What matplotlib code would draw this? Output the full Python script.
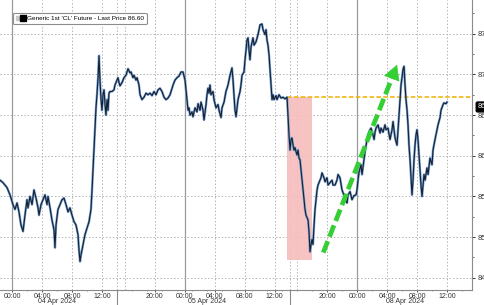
import matplotlib
matplotlib.use('Agg')
import matplotlib.pyplot as plt
from matplotlib.lines import Line2D
from matplotlib.legend_handler import HandlerTuple
import matplotlib.transforms as mtransforms

plt.rcParams['font.family'] = ['Liberation Sans', 'DejaVu Sans']

# ── Datos: eje horario comprimido (0 = 04 Apr 00:00, sin huecos de mercado) ──
hours = [
    -1.60, -1.20, -0.67, -0.27, 0.13, 0.40, 0.67, 0.93, 1.20, 1.47, 1.73, 2.00,
    2.13, 2.40, 2.67, 2.93, 3.20, 3.47, 3.60, 3.87, 4.13, 4.40, 4.67, 4.80,
    5.07, 5.33, 5.60, 5.73, 5.87, 6.13, 6.40, 6.67, 6.93, 7.20, 7.47, 7.73,
    8.00, 8.27, 8.53, 8.80, 8.93, 9.07, 9.20, 9.47, 9.73, 10.00, 10.27, 10.53,
    10.67, 10.80, 10.93, 11.07, 11.20, 11.33, 11.47, 11.60, 11.73, 11.87, 12.00,
    12.13, 12.27, 12.40, 12.53, 12.67, 12.80, 12.93, 13.07, 13.33, 13.60, 13.73,
    14.00, 14.13, 14.27, 14.40, 14.67, 14.93, 15.20, 15.33, 15.47, 15.73, 15.87,
    16.13, 16.27, 16.53, 16.67, 16.93, 17.07, 17.33, 17.60, 17.87, 18.13, 18.40,
    18.67, 18.93, 19.20, 19.47, 19.73, 20.00, 20.27, 20.53, 20.80, 21.07, 21.33,
    21.47, 21.73, 22.00, 22.27, 22.53, 22.80, 23.07, 23.20, 23.33, 23.47, 23.60,
    23.73, 24.00, 24.13, 24.40, 24.67, 24.80, 25.07, 25.20, 25.47, 25.60, 25.87,
    26.00, 26.13, 26.27, 26.40, 26.53, 26.80, 26.93, 27.20, 27.47, 27.60, 27.87,
    28.00, 28.27, 28.53, 28.80, 29.07, 29.33, 29.47, 29.60, 29.73, 29.87, 30.00,
    30.13, 30.40, 30.53, 30.67, 30.93, 31.07, 31.20, 31.33, 31.47, 31.60, 31.73,
    31.87, 32.13, 32.27, 32.53, 32.80, 32.93, 33.07, 33.33, 33.47, 33.73, 33.87,
    34.00, 34.13, 34.27, 34.40, 34.53, 34.67, 34.80, 34.93, 35.20, 35.33, 35.60,
    35.87, 36.13, 36.40, 36.67, 36.93, 37.07, 37.20, 37.33, 37.47, 37.60, 37.73,
    37.87, 38.00, 38.13, 38.27, 38.40, 38.53, 38.67, 38.80, 38.93, 39.07, 39.20,
    39.47, 39.60, 39.73, 39.87, 40.00, 40.13, 40.27, 40.40, 40.53, 40.67, 40.80,
    41.07, 41.20, 41.33, 41.60, 41.73, 42.00, 42.13, 42.40, 42.67, 42.80, 43.07,
    43.33, 43.47, 43.73, 44.00, 44.27, 44.40, 44.67, 44.80, 45.07, 45.33, 45.60,
    45.87, 46.00, 46.13, 46.27, 46.53, 46.67, 46.93, 47.07, 47.33, 47.47, 47.73,
    47.87, 48.13, 48.27, 48.40, 48.53, 48.80, 49.07, 49.20, 49.47, 49.73, 49.87,
    50.13, 50.40, 50.67, 50.80, 51.07, 51.33, 51.47, 51.60, 51.73, 51.87, 52.13,
    52.27, 52.40, 52.53, 52.67, 52.80, 52.93, 53.07, 53.20, 53.33, 53.47, 53.60,
    53.73, 53.87, 54.00, 54.13, 54.27, 54.40, 54.53, 54.67, 54.80, 54.93, 55.07,
    55.33, 55.47, 55.73, 56.00, 56.13, 56.40, 56.67, 56.80, 57.07, 57.20, 57.47,
    57.60, 57.87, 58.00,
]
price = [
    85.70, 85.67, 85.61, 85.52, 85.40, 85.34, 85.42, 85.31, 85.15, 85.07, 85.27, 85.46,
    85.36, 85.50, 85.40, 85.58, 85.48, 85.36, 85.27, 85.40, 85.46, 85.52, 85.40, 85.50,
    85.36, 85.21, 85.09, 84.87, 85.15, 85.34, 85.40, 85.46, 85.48, 85.40, 85.31, 85.36,
    85.27, 85.19, 85.15, 85.03, 84.84, 84.70, 84.78, 84.91, 85.03, 85.11, 85.19, 85.34,
    85.58, 85.83, 86.07, 86.34, 86.59, 86.75, 86.96, 87.23, 86.93, 86.69, 86.56,
    86.75, 86.81, 86.63, 86.50, 86.69, 86.56, 86.77, 86.79, 86.79, 86.81, 86.87,
    86.93, 86.96, 86.90, 86.86, 86.90, 86.96, 86.99, 87.03, 87.07, 87.02, 87.03,
    86.96, 86.99, 86.93, 86.96, 86.87, 86.75, 86.69, 86.72, 86.77, 86.75, 86.77,
    86.74, 86.79, 86.75, 86.81, 86.83, 86.79, 86.72, 86.69, 86.71, 86.75, 86.83,
    86.87, 86.93, 86.96, 86.98, 87.03, 87.03, 86.93, 86.81, 86.69, 86.56, 86.59,
    86.50, 86.54, 86.48, 86.59, 86.54, 86.64, 86.56, 86.66, 86.56, 86.44, 86.63,
    86.75, 86.83, 86.77, 86.87, 86.75, 86.79, 86.69, 86.59, 86.63, 86.56, 86.47,
    86.59, 86.66, 86.79, 86.87, 86.99, 87.08, 86.93, 86.75, 86.56, 86.48, 86.59,
    86.69, 86.79, 86.87, 86.99, 87.03, 87.18, 87.30, 87.42, 87.45, 87.30, 87.18,
    87.34, 87.45, 87.36, 87.40, 87.49, 87.55, 87.61, 87.62, 87.55, 87.49, 87.55,
    87.42, 87.36, 87.24, 87.06, 86.87, 86.69, 86.75, 86.69, 86.74, 86.69, 86.75,
    86.71, 86.72, 86.70, 86.72, 86.26, 86.07, 86.20, 86.22, 86.13, 86.07, 86.10,
    86.05, 86.01, 86.07, 85.97, 85.95, 85.83, 85.70, 85.58, 85.46, 85.34, 85.27,
    85.21, 85.07, 84.82, 84.91, 84.97, 84.91, 85.15, 85.34, 85.46, 85.58, 85.64,
    85.70, 85.73, 85.79, 85.73, 85.68, 85.73, 85.64, 85.67, 85.70, 85.64, 85.64,
    85.70, 85.77, 85.73, 85.58, 85.51, 85.46, 85.42, 85.52, 85.56, 85.46, 85.51,
    85.52, 85.58, 85.70, 85.80, 85.89, 85.77, 85.95, 86.05, 86.20, 86.26, 86.32,
    86.34, 86.26, 86.20, 86.29, 86.34, 86.38, 86.28, 86.34, 86.29, 86.38, 86.32,
    86.34, 86.20, 86.32, 86.42, 86.22, 86.13, 86.32, 86.50, 86.69, 86.87, 87.06,
    87.10, 86.87, 86.69, 86.56, 86.38, 86.13, 85.95, 85.73, 85.52, 85.70, 85.95,
    86.13, 86.26, 86.32, 86.20, 86.01, 85.83, 85.64, 85.50, 85.64, 85.77, 85.70,
    85.85, 85.77, 85.97, 85.89, 86.07, 86.20, 86.32, 86.38, 86.47, 86.56, 86.63,
    86.65, 86.64, 86.66,
]

LAST_PRICE   = 86.60
REF_LEVEL    = 86.72                 # linea naranja (cierre del viernes)
SHADE_X      = (36.67, 40.00)        # zona roja
SHADE_Y      = (84.72, 86.72)
ARROW_START  = (41.5, 84.81)
ARROW_TIP    = (51.33, 87.12)
ARROW_NECK   = (50.84, 87.00)

tick_pos    = [0, 4, 8, 12, 19, 23, 27, 31, 35, 42, 46, 50, 54, 58]
tick_lab    = ['00:00', '04:00', '08:00', '12:00', '20:00', '00:00', '04:00',
               '08:00', '12:00', '20:00', '00:00', '04:00', '08:00', '12:00']
day_lines   = [0, 23, 46]
separators  = [14, 37]
extra_grid  = [15, 38]
date_pos    = [6.0, 26.0, 52.4]
date_lab    = ['04 Apr 2024', '05 Apr 2024', '08 Apr 2024']
y_ticks     = [84.5, 85.0, 85.5, 86.0, 86.5, 87.0, 87.5]

GRID = '#b4b4b4'; GREEN = '#35cf35'; ORANGE = '#f0b000'

# ── Figura ───────────────────────────────────────────────────────────────────
fig = plt.figure(figsize=(4.85, 3.05), dpi=100)
ax = fig.add_axes([0, 15 / 305, 472 / 485, 290 / 305])
ax.set_xlim(-1.6, 61.33)
ax.set_ylim(84.35, 87.915)

for y in y_ticks:
    ax.axhline(y, color=GRID, ls=(0, (1.5, 2)), lw=0.7, zorder=0)
for x in tick_pos + separators + extra_grid:
    if x not in day_lines:
        ax.axvline(x, color=GRID, ls=(0, (1.5, 2)), lw=0.7, zorder=0)
for x in day_lines:
    ax.axvline(x, color='#9a9a9a', lw=0.9, zorder=0)

ax.fill_between(SHADE_X, SHADE_Y[0], SHADE_Y[1], color='#f6bcbc', alpha=0.9,
                lw=0, zorder=1)
ax.hlines(REF_LEVEL, SHADE_X[0], 61.33, color=ORANGE, ls=(0, (3, 1.5)), lw=1.1, zorder=2)

ax.plot(hours, price, color='#6f9fd6', lw=1.7, zorder=3)
ax.plot(hours, price, color='#1a1f2b', lw=0.8, zorder=4)

# flecha verde discontinua
ax.plot([ARROW_START[0], ARROW_NECK[0]], [ARROW_START[1], ARROW_NECK[1]],
        color=GREEN, lw=3.4, ls=(0, (2.6, 1.0)), solid_capstyle='butt', zorder=5)
ax.annotate('', xy=ARROW_TIP, xytext=ARROW_NECK,
            arrowprops=dict(arrowstyle='-|>,head_length=1.0,head_width=0.55',
                            color=GREEN, lw=0.5, shrinkA=0, shrinkB=0,
                            mutation_scale=10), zorder=5)

# ejes
for s in ['top', 'left']:
    ax.spines[s].set_visible(False)
for s in ['bottom', 'right']:
    ax.spines[s].set_color('#8a8a8a'); ax.spines[s].set_linewidth(0.8)

ax.yaxis.tick_right()
ax.set_yticks(y_ticks)
ax.set_yticklabels([f'{v:.2f}' for v in y_ticks])
ax.set_yticks([84.75, 85.25, 85.75, 86.25, 86.75, 87.25, 87.75], minor=True)
ax.tick_params(axis='y', which='major', length=2.5, width=0.7, pad=1.5,
               labelsize=5.5, colors='#333333')
ax.tick_params(axis='y', which='minor', length=1.5, width=0.6, colors='#555555')

ax.set_xticks(tick_pos)
ax.set_xticklabels(tick_lab)
ax.set_xticks([h for h in range(0, 61, 2) if h not in tick_pos], minor=True)
ax.tick_params(axis='x', which='major', length=1.5, width=0.6, pad=0.5,
               labelsize=5, colors='#333333')
ax.tick_params(axis='x', which='minor', length=1.0, width=0.5, colors='#666666')

trans = mtransforms.blended_transform_factory(ax.transData, ax.transAxes)
for x in separators:
    ax.plot([x, x], [0, -0.06], color='#8a8a8a', lw=0.8, transform=trans, clip_on=False)
for x, lab in zip(date_pos, date_lab):
    ax.text(x, -0.029, lab, transform=trans, ha='center', va='top', fontsize=5,
            color='#333333')

# etiqueta de ultimo precio
ax.text(1.012, LAST_PRICE, f'{LAST_PRICE:.2f}',
        transform=mtransforms.blended_transform_factory(ax.transAxes, ax.transData),
        ha='left', va='center', fontsize=5.2, color='white', clip_on=False,
        bbox=dict(boxstyle='round,pad=0.2', fc='black', ec='black'))

# leyenda
h1 = Line2D([], [], marker='s', ls='none', color='#c8c8c8', markersize=2.5)
h2 = Line2D([], [], marker='s', ls='none', color='black', markersize=4)
ax.legend(handles=[(h1, h2)], labels=[f"Generic 1st 'CL' Future - Last Price {LAST_PRICE:.2f}"],
          handler_map={tuple: HandlerTuple(ndivide=None, pad=0.2)},
          loc='upper left', bbox_to_anchor=(13 / 472, 1 - 13 / 290), borderaxespad=0,
          fontsize=4.6, handlelength=1.4, handletextpad=0.3, borderpad=0.45,
          frameon=True, fancybox=True, edgecolor='#8c8c8c', framealpha=1)
ax.get_legend().get_frame().set_linewidth(0.8)

plt.savefig('out.png', dpi=100)
plt.close()
